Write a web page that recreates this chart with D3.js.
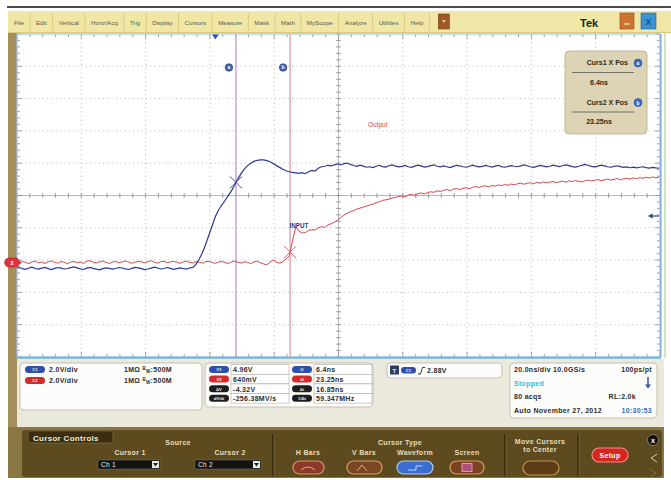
<!DOCTYPE html>
<html><head><meta charset="utf-8">
<script src="https://cdn.jsdelivr.net/npm/d3@7"></script>
<style>html,body{margin:0;padding:0;background:#fff;}svg{display:block;font-family:"Liberation Sans",Arial,sans-serif;}</style>
</head><body><svg id="c" width="671" height="480"></svg>
<script>
// ---------------- data ----------------
const sampleStart = -62;   // ns, first sample
const sampleStep = 1;      // ns between samples
// Ch1 (blue, "INPUT") volts
const ch1Volts = [
-0.36,-0.31,-0.38,-0.42,-0.34,-0.29,-0.37,-0.41,-0.35,-0.30,
-0.38,-0.44,-0.36,-0.31,-0.35,-0.40,-0.37,-0.32,-0.27,-0.33,
-0.39,-0.43,-0.35,-0.30,-0.36,-0.41,-0.45,-0.38,-0.33,-0.36,
-0.41,-0.37,-0.31,-0.34,-0.39,-0.43,-0.36,-0.30,-0.33,-0.38,
-0.44,-0.40,-0.35,-0.29,-0.34,-0.40,-0.37,-0.31,-0.36,-0.42,
-0.38,-0.33,-0.37,-0.41,-0.34,-0.30,-0.10,0.22,0.62,1.13,
1.70,2.28,2.85,3.25,3.56,3.84,4.14,4.44,4.80,5.18,
5.50,5.78,6.00,6.15,6.26,6.33,6.36,6.35,6.31,6.24,
6.13,6.00,5.89,5.78,5.68,5.62,5.58,5.55,5.52,5.57,
5.50,5.62,5.70,5.66,5.84,5.93,5.96,6.02,5.98,6.05,
6.10,6.04,6.12,6.16,6.08,6.01,5.95,6.03,5.97,5.90,
5.93,5.88,5.96,6.02,5.94,5.91,5.99,6.04,5.97,5.92,
5.95,6.01,5.93,5.89,5.97,6.03,5.98,5.91,5.94,6.00,
6.05,5.96,5.92,5.98,5.93,5.88,5.95,6.02,5.99,5.93,
5.90,5.96,6.03,5.97,5.92,5.95,6.01,5.96,5.91,5.97,
6.02,5.94,5.90,5.95,6.00,5.96,5.93,5.98,6.04,5.99,
5.93,5.89,5.95,6.01,5.97,5.92,5.96,6.03,5.98,5.94,
5.99,6.05,6.00,5.94,5.91,5.96,6.02,6.07,6.01,5.95,
5.92,5.97,6.03,5.98,5.93,5.90,5.95,5.99,5.94,5.89,
5.92,5.87,5.91,5.86,5.90,5.93,5.88,5.84,5.89,5.86,
5.85];
// Ch2 (red, "Output") volts
const ch2Volts = [
0.02,-0.05,0.06,0.01,-0.07,0.04,0.09,-0.02,0.03,-0.06,
0.05,0.10,0.01,-0.04,0.06,0.02,-0.08,0.03,0.07,-0.01,
0.04,-0.05,0.08,0.12,0.02,-0.03,0.05,0.09,0.01,-0.06,
0.03,0.07,-0.02,0.04,0.10,0.03,-0.05,0.02,0.08,0.04,
-0.03,0.06,0.11,0.02,-0.04,0.05,0.08,-0.01,0.03,0.07,
0.02,-0.05,0.04,0.09,0.01,-0.03,0.06,0.02,-0.04,0.05,
0.08,0.01,-0.05,0.03,0.07,0.00,-0.06,0.04,0.09,0.02,
-0.03,0.05,0.01,-0.07,0.04,0.08,-0.02,-0.09,-0.14,0.02,
0.16,0.03,-0.04,0.05,0.22,0.40,1.35,2.20,1.95,1.82,
1.86,1.98,2.04,2.01,2.14,2.22,2.17,2.33,2.40,2.49,
2.62,2.79,2.94,3.06,3.15,3.21,3.31,3.37,3.43,3.49,
3.56,3.61,3.71,3.76,3.85,3.88,3.92,3.99,4.03,4.09,
4.12,4.06,4.18,4.22,4.15,4.26,4.31,4.24,4.33,4.38,
4.35,4.44,4.40,4.47,4.52,4.45,4.55,4.58,4.51,4.60,
4.63,4.57,4.66,4.70,4.64,4.72,4.75,4.68,4.77,4.74,
4.80,4.76,4.83,4.78,4.86,4.81,4.88,4.92,4.85,4.90,
4.94,4.87,4.96,4.91,4.99,4.93,4.97,5.02,4.95,5.00,
5.04,4.97,5.06,5.01,5.08,5.03,4.99,5.07,5.11,5.05,
5.09,5.14,5.06,5.12,5.17,5.10,5.15,5.20,5.13,5.18,
5.22,5.16,5.24,5.19,5.26,5.21,5.28,5.23,5.30,5.25,
5.29];
const cursorTimes = [6.4, 23.25];       // ns
const cursorVolts = [4.96, 0.64];       // V at cursor on Ch1 / Ch2
const cursorLetters = ["a", "b"];
const triggerLevel = 2.88;              // V
const menuItems = ["File","Edit","Vertical","Horiz/Acq","Trig","Display","Cursors","Measure","Mask","Math","MyScope","Analyze","Utilities","Help"];
const readoutTitles = ["Curs1 X Pos","Curs2 X Pos"];
const readoutValues = ["6.4ns","23.25ns"];
const chanLabels = ["C1","C2"];
const chanScale = ["2.0V/div","2.0V/div"];
const measLabelsV = ["V1","V2","ΔV","dV/dt"];
const measValuesV = ["4.96V","640mV","-4.32V","-256.38MV/s"];
const measLabelsT = ["t1","t2","Δt","1/Δt"];
const measValuesT = ["6.4ns","23.25ns","16.85ns","59.347MHz"];
const timebaseLines = [["20.0ns/div  10.0GS/s","100ps/pt"],["Stopped",""],["80 acqs","RL:2.0k"],["Auto   November 27, 2012","10:30:53"]];

// ---------------- setup ----------------
const svg = d3.select("#c");
const X0 = 17, X1 = 660, Y0 = 34, Y1 = 357;
const x = d3.scaleLinear().domain([-61.7, 138.3]).range([X0, X1]);
const y = d3.scaleLinear().domain([-5.85, 14.15]).range([Y1, Y0]);
const gx = d3.scaleLinear().domain([0, 10]).range([X0, X1]);
const gy = d3.scaleLinear().domain([0, 10]).range([Y0, Y1]);

svg.append("rect").attr("width", 671).attr("height", 480).attr("fill", "#fff");
svg.append("line").attr("x1", 7).attr("x2", 671).attr("y1", 7).attr("y2", 7).attr("stroke", "#111").attr("stroke-width", 1.6);

// ---------------- menu bar ----------------
svg.append("rect").attr("x", 8).attr("y", 11).attr("width", 663).attr("height", 22).attr("fill", "#f0e7a6");
svg.append("line").attr("x1", 8).attr("x2", 671).attr("y1", 32.5).attr("y2", 32.5).attr("stroke", "#d6c97c");
const menu = svg.append("g").attr("font-size", 6.2).attr("fill", "#5a5a50");
let mx = 14;
menuItems.forEach(m => {
  const t = menu.append("text").attr("x", mx).attr("y", 24.5).text(m);
  const w = t.node().getComputedTextLength();
  const sx = mx + w + 6;
  menu.append("line").attr("x1", sx).attr("x2", sx).attr("y1", 13).attr("y2", 31).attr("stroke", "#d9cd86");
  mx = sx + 6;
});
svg.append("rect").attr("x", mx + 3).attr("y", 14).attr("width", 11).attr("height", 15).attr("fill", "#9c5a26").attr("stroke", "#6e3c14").attr("stroke-width", 0.6);
svg.append("path").attr("d", `M${mx + 6.5},20 h4 l-2,3 z`).attr("fill", "#f0c890");
svg.append("text").attr("x", 580).attr("y", 26.5).attr("font-size", 11).attr("font-weight", "bold").attr("fill", "#222").text("Tek");
svg.append("rect").attr("x", 620).attr("y", 13).attr("width", 14).attr("height", 16).attr("fill", "#cf7430").attr("stroke", "#8a4a18").attr("stroke-width", 0.6);
svg.append("line").attr("x1", 624).attr("x2", 630).attr("y1", 24).attr("y2", 24).attr("stroke", "#fbe0c0").attr("stroke-width", 1.2);
svg.append("rect").attr("x", 641).attr("y", 13).attr("width", 15).attr("height", 16).attr("fill", "#3a92d4").attr("stroke", "#1e5f96").attr("stroke-width", 0.6);
svg.append("text").attr("x", 648.5).attr("y", 25).attr("text-anchor", "middle").attr("font-size", 9).attr("fill", "#173a5e").text("X");

// side strips
svg.append("rect").attr("x", 8).attr("y", 33).attr("width", 9).attr("height", 445).attr("fill", "#a48e5a");
svg.append("line").attr("x1", 665).attr("x2", 665).attr("y1", 33).attr("y2", 358).attr("stroke", "#c4d8ae").attr("stroke-width", 1.5);

// ---------------- graticule ----------------
const plot = svg.append("g");
plot.append("rect").attr("x", X0).attr("y", Y0).attr("width", X1 - X0).attr("height", Y1 - Y0).attr("fill", "#fff");
const gridDivs = d3.range(1, 10).filter(d => d !== 5);
plot.selectAll(".gv").data(gridDivs).join("line").attr("class", "gv")
  .attr("x1", d => gx(d)).attr("x2", d => gx(d)).attr("y1", Y0).attr("y2", Y1)
  .attr("stroke", "#b9b9b9").attr("stroke-dasharray", "1,3.3");
plot.selectAll(".gh").data(gridDivs).join("line").attr("class", "gh")
  .attr("y1", d => gy(d)).attr("y2", d => gy(d)).attr("x1", X0).attr("x2", X1)
  .attr("stroke", "#b9b9b9").attr("stroke-dasharray", "1,3.3");
plot.append("line").attr("x1", X0).attr("x2", X1).attr("y1", gy(5)).attr("y2", gy(5)).attr("stroke", "#a4a4a4").attr("stroke-width", 0.8);
plot.append("line").attr("x1", gx(5)).attr("x2", gx(5)).attr("y1", Y0).attr("y2", Y1).attr("stroke", "#a4a4a4").attr("stroke-width", 0.8);
const minor = d3.range(0, 51).map(k => k / 5);
const tickCol = "#8c8c8c";
plot.selectAll(".ct1").data(minor).join("line").attr("x1", d => gx(d)).attr("x2", d => gx(d)).attr("y1", gy(5) - 2.5).attr("y2", gy(5) + 2.5).attr("stroke", tickCol).attr("stroke-width", 0.8);
plot.selectAll(".ct2").data(minor).join("line").attr("y1", d => gy(d)).attr("y2", d => gy(d)).attr("x1", gx(5) - 2.5).attr("x2", gx(5) + 2.5).attr("stroke", tickCol).attr("stroke-width", 0.8);
const tl = (d) => (Math.abs(d - Math.round(d)) < 1e-6 ? 5 : 3);
plot.selectAll(".tt").data(minor).join("line").attr("x1", d => gx(d)).attr("x2", d => gx(d)).attr("y1", Y0).attr("y2", d => Y0 + tl(d)).attr("stroke", tickCol).attr("stroke-width", 0.8);
plot.selectAll(".tb").data(minor).join("line").attr("x1", d => gx(d)).attr("x2", d => gx(d)).attr("y1", Y1).attr("y2", d => Y1 - tl(d)).attr("stroke", tickCol).attr("stroke-width", 0.8);
plot.selectAll(".tlft").data(minor).join("line").attr("y1", d => gy(d)).attr("y2", d => gy(d)).attr("x1", X0).attr("x2", d => X0 + tl(d)).attr("stroke", tickCol).attr("stroke-width", 0.8);
plot.selectAll(".trgt").data(minor).join("line").attr("y1", d => gy(d)).attr("y2", d => gy(d)).attr("x1", X1).attr("x2", d => X1 - tl(d)).attr("stroke", tickCol).attr("stroke-width", 0.8);
plot.append("rect").attr("x", X0).attr("y", Y0).attr("width", X1 - X0).attr("height", Y1 - Y0).attr("fill", "none").attr("stroke", "#9ec2e8").attr("stroke-width", 1.2);
plot.append("line").attr("x1", X0).attr("x2", X1 + 1).attr("y1", Y1 + 0.8).attr("y2", Y1 + 0.8).attr("stroke", "#64b8dc").attr("stroke-width", 2);
plot.append("line").attr("x1", X1 + 0.8).attr("x2", X1 + 0.8).attr("y1", Y0).attr("y2", Y1).attr("stroke", "#8aaee6").attr("stroke-width", 1.6);

// ---------------- cursors ----------------
const cursorCols = ["#c9a3d6", "#dfa9ae"];
plot.selectAll(".cur").data(cursorTimes).join("line").attr("class", "cur")
  .attr("x1", d => x(d)).attr("x2", d => x(d)).attr("y1", Y0).attr("y2", Y1)
  .attr("stroke", (d, i) => cursorCols[i]).attr("stroke-width", 1.5);
const cg = plot.selectAll(".cc").data(cursorTimes).join("g").attr("class", "cc")
  .attr("transform", d => `translate(${x(d) - 7},67.5)`);
cg.append("circle").attr("r", 3.8).attr("fill", "#3c62b8").attr("stroke", "#20408a").attr("stroke-width", 0.6);
cg.append("text").attr("y", 1.8).attr("text-anchor", "middle").attr("font-size", 5).attr("font-weight", "bold").attr("fill", "#fff").text((d, i) => cursorLetters[i]);

// ---------------- traces ----------------
svg.append("clipPath").attr("id", "clip").append("rect").attr("x", X0).attr("y", Y0).attr("width", X1 - X0).attr("height", Y1 - Y0);
const line = d3.line().x((d, i) => x(sampleStart + i * sampleStep)).y(d => y(d)).curve(d3.curveLinear);
const traces = plot.append("g").attr("clip-path", "url(#clip)");
traces.append("path").datum(ch2Volts).attr("d", line).attr("fill", "none").attr("stroke", "#d8464a").attr("stroke-width", 1);
traces.append("path").datum(ch1Volts).attr("d", line).attr("fill", "none").attr("stroke", "#2b3990").attr("stroke-width", 1.2);

// cursor X markers
const xCols = ["#3a4fa8", "#dd6670"];
cursorTimes.forEach((t, i) => {
  const cx = x(t), cy = y(cursorVolts[i]);
  plot.append("path").attr("d", `M${cx - 6},${cy - 6}L${cx + 6},${cy + 6}M${cx - 6},${cy + 6}L${cx + 6},${cy - 6}`)
    .attr("stroke", xCols[i]).attr("stroke-width", 1);
});

// labels
plot.append("text").attr("x", 368).attr("y", 126.5).attr("font-size", 6.5).attr("fill", "#e0403c").text("Output");
plot.append("text").attr("x", 289.5).attr("y", 228).attr("font-size", 6.3).attr("font-weight", "bold").attr("fill", "#2b3990").text("INPUT");

// trigger position marker (top) and level arrow (right)
plot.append("path").attr("d", `M${x(0) - 3.2},${Y0 + 0.5} h6.4 l-3.2,5 z`).attr("fill", "#2a52b4");
plot.append("path").attr("d", `M${X1 - 1},${y(triggerLevel)} H${X1 - 8}`).attr("stroke", "#2b3990").attr("stroke-width", 1.2);
plot.append("path").attr("d", `M${X1 - 12},${y(triggerLevel)} l4.5,-2.6 v5.2 z`).attr("fill", "#2b3990");

// channel ground marker (left)
const gm = plot.append("g").attr("transform", `translate(9,${y(0)})`);
gm.append("path").attr("d", "M0,-4.5 h8 l4,4.5 l-4,4.5 h-8 a4.5,4.5 0 0 1 0,-9 z").attr("fill", "#e0323a").attr("stroke", "#9e1e24").attr("stroke-width", 0.5);
gm.append("text").attr("x", 3).attr("y", 2).attr("text-anchor", "middle").attr("font-size", 5.5).attr("font-weight", "bold").attr("fill", "#fff").text("2");

// ---------------- cursor readout box ----------------
const rb = svg.append("g");
rb.append("rect").attr("x", 565).attr("y", 51).attr("width", 82).attr("height", 83).attr("rx", 4).attr("fill", "#dcd4b4").attr("stroke", "#b6ab86").attr("stroke-width", 0.8);
readoutTitles.forEach((tt, i) => {
  const by = 65 + i * 39.5;
  rb.append("text").attr("x", 628).attr("y", by).attr("text-anchor", "end").attr("font-size", 7).attr("font-weight", "bold").attr("fill", "#2e2a20").text(tt);
  rb.append("circle").attr("cx", 638).attr("cy", by - 2).attr("r", 4).attr("fill", "#3c6cc8").attr("stroke", "#1e4590").attr("stroke-width", 0.5);
  rb.append("text").attr("x", 638).attr("y", by).attr("text-anchor", "middle").attr("font-size", 5).attr("font-weight", "bold").attr("fill", "#fff").text(cursorLetters[i]);
  rb.append("line").attr("x1", 572).attr("x2", 634).attr("y1", by + 7.5).attr("y2", by + 7.5).attr("stroke", "#555").attr("stroke-width", 0.8);
  rb.append("text").attr("x", 599).attr("y", by + 19.5).attr("text-anchor", "middle").attr("font-size", 7).attr("font-weight", "bold").attr("fill", "#2e2a20").text(readoutValues[i]);
});

// ---------------- info panels ----------------
svg.append("rect").attr("x", X0).attr("y", 359).attr("width", 647).attr("height", 68).attr("fill", "#ebe8dc");
const info = svg.append("g").attr("font-size", 7).attr("font-weight", "bold").attr("fill", "#2c2c2c").attr("letter-spacing", 0.3);
const panel = (px, py, pw, ph) => info.append("rect").attr("x", px).attr("y", py).attr("width", pw).attr("height", ph).attr("rx", 4).attr("fill", "#fcfcfa").attr("stroke", "#b7b3a4").attr("stroke-width", 0.8);
const pill = (px, py, pw, ph, col, label) => {
  info.append("rect").attr("x", px).attr("y", py).attr("width", pw).attr("height", ph).attr("rx", ph / 2).attr("fill", col);
  info.append("text").attr("x", px + pw / 2).attr("y", py + ph - 1.6).attr("text-anchor", "middle").attr("font-size", 4.2).attr("letter-spacing", 0).attr("fill", "#f2f2f2").text(label);
};
const chanCols = ["#2f4fae", "#d42a2a"];
panel(20, 363, 182, 47);
chanLabels.forEach((c, i) => {
  const ry = 366 + i * 11;
  pill(25, ry, 20, 7, chanCols[i], c);
  info.append("text").attr("x", 49).attr("y", ry + 6.3).text(chanScale[i]);
  const t = info.append("text").attr("x", 124).attr("y", ry + 6.3);
  t.append("tspan").text("1MΩ ");
  t.append("tspan").attr("font-size", 4.5).attr("dy", -2).text("B");
  t.append("tspan").attr("font-size", 4.5).attr("dy", 3).text("W");
  t.append("tspan").attr("dy", -1).text(":500M");
});
panel(205, 363, 168, 44);
const measCols = ["#2f4fae", "#d42a2a", "#1e1e1e", "#1e1e1e"];
measLabelsV.forEach((l, j) => {
  const ry = 366 + j * 9.6;
  pill(209, ry, 20, 7, measCols[j], l);
  info.append("rect").attr("x", 231).attr("y", ry - 1.3).attr("width", 58).attr("height", 9.6).attr("fill", "#fff").attr("stroke", "#b0aca0").attr("stroke-width", 0.6);
  info.append("text").attr("x", 233).attr("y", ry + 6.3).text(measValuesV[j]);
  pill(292, ry, 20, 7, measCols[j], measLabelsT[j]);
  info.append("rect").attr("x", 314).attr("y", ry - 1.3).attr("width", 58).attr("height", 9.6).attr("fill", "#fff").attr("stroke", "#b0aca0").attr("stroke-width", 0.6);
  info.append("text").attr("x", 316).attr("y", ry + 6.3).text(measValuesT[j]);
});
panel(387, 363, 115, 15);
info.append("rect").attr("x", 390).attr("y", 365.5).attr("width", 9).attr("height", 9).attr("fill", "#2c3e66");
info.append("text").attr("x", 394.5).attr("y", 372.5).attr("text-anchor", "middle").attr("font-size", 6).attr("fill", "#e8e8e8").text("T");
pill(401, 367, 15, 6.5, chanCols[0], chanLabels[0]);
info.append("path").attr("d", "M418,374 h2.5 l2,-6.5 h2.5").attr("fill", "none").attr("stroke", "#222").attr("stroke-width", 0.9);
info.append("text").attr("x", 427).attr("y", 373).text(triggerLevel.toFixed(2) + "V");
panel(510, 363, 147, 55);
timebaseLines.forEach((r, k) => {
  const ry = 372 + k * 13.5;
  info.append("text").attr("x", 514).attr("y", ry).attr("fill", k === 1 ? "#3db6d6" : "#2c2c2c").text(r[0]);
  if (r[1]) info.append("text").attr("x", k === 2 ? 636 : 652).attr("y", ry).attr("text-anchor", "end").attr("fill", k === 3 ? "#2f6fc0" : "#2c2c2c").text(r[1]);
});
info.append("line").attr("x1", 648).attr("x2", 648).attr("y1", 377).attr("y2", 386).attr("stroke", "#2f56b0").attr("stroke-width", 1.5);
info.append("path").attr("d", "M645,384.5 h6 l-3,4 z").attr("fill", "#2f56b0");

// ---------------- bottom control bar ----------------
const bar = svg.append("g").attr("font-size", 7).attr("font-weight", "bold").attr("fill", "#e8dcbc").attr("letter-spacing", 0.3);
bar.append("rect").attr("x", 8).attr("y", 427).attr("width", 656).attr("height", 51).attr("fill", "#8a7642");
bar.append("rect").attr("x", 22).attr("y", 430).attr("width", 640).attr("height", 47).attr("rx", 3).attr("fill", "#5d4b1f");
bar.append("rect").attr("x", 28).attr("y", 431).attr("width", 85).attr("height", 12).attr("rx", 2).attr("fill", "#3a2d10").attr("stroke", "#8c7c52").attr("stroke-width", 0.6);
bar.append("text").attr("x", 33).attr("y", 440.5).attr("font-size", 8).attr("fill", "#f2ead2").text("Cursor Controls");
bar.append("text").attr("x", 178).attr("y", 444.5).attr("text-anchor", "middle").text("Source");
bar.append("text").attr("x", 130).attr("y", 455).attr("text-anchor", "middle").text("Cursor 1");
bar.append("text").attr("x", 230).attr("y", 455).attr("text-anchor", "middle").text("Cursor 2");
[[98, 62, "Ch 1"], [195, 66, "Ch 2"]].forEach(([dx, dw, lab]) => {
  bar.append("rect").attr("x", dx).attr("y", 460).attr("width", dw).attr("height", 9).attr("fill", "#121212").attr("stroke", "#7a7a6a").attr("stroke-width", 0.5);
  bar.append("text").attr("x", dx + 3).attr("y", 467).attr("font-weight", "normal").attr("font-size", 6.5).attr("fill", "#f0f0f0").text(lab);
  bar.append("rect").attr("x", dx + dw - 8).attr("y", 461).attr("width", 7).attr("height", 7).attr("fill", "#e8e8e8");
  bar.append("path").attr("d", `M${dx + dw - 7},463 h5 l-2.5,3.5 z`).attr("fill", "#222");
});
[273, 505, 578].forEach(sx => {
  bar.append("line").attr("x1", sx).attr("x2", sx).attr("y1", 434).attr("y2", 476).attr("stroke", "#2a2008").attr("stroke-width", 1.2);
  bar.append("line").attr("x1", sx + 1.2).attr("x2", sx + 1.2).attr("y1", 434).attr("y2", 476).attr("stroke", "#85733f").attr("stroke-width", 0.6);
});
bar.append("text").attr("x", 400).attr("y", 444.5).attr("text-anchor", "middle").text("Cursor Type");
const btn = (bx, by, bw, bh, fill, stroke) => bar.append("rect").attr("x", bx).attr("y", by).attr("width", bw).attr("height", bh).attr("rx", bh / 2).attr("fill", fill).attr("stroke", stroke).attr("stroke-width", 1.2);
bar.append("text").attr("x", 308).attr("y", 455).attr("text-anchor", "middle").text("H Bars");
btn(293, 461, 31, 13, "#8a3a26", "#d89a68");
bar.append("path").attr("d", "M301,470 q7,-6 14,0").attr("fill", "none").attr("stroke", "#f3c8a0").attr("stroke-width", 0.8);
bar.append("text").attr("x", 364).attr("y", 455).attr("text-anchor", "middle").text("V Bars");
btn(347, 461, 35, 13, "#7a4722", "#d8a060");
bar.append("path").attr("d", "M357,471 l5,-6 l5,6").attr("fill", "none").attr("stroke", "#f3c8a0").attr("stroke-width", 0.8);
bar.append("text").attr("x", 415).attr("y", 455).attr("text-anchor", "middle").text("Waveform");
btn(397, 461, 36, 13, "#3a6fd0", "#b2ccf4");
bar.append("path").attr("d", "M408,470 h8 v-4 h6").attr("fill", "none").attr("stroke", "#e8f0ff").attr("stroke-width", 0.8);
bar.append("text").attr("x", 467).attr("y", 455).attr("text-anchor", "middle").text("Screen");
btn(450, 461, 34, 13, "#7a4222", "#d8a060");
bar.append("rect").attr("x", 462).attr("y", 463.5).attr("width", 10).attr("height", 8).attr("fill", "#b0507a").attr("stroke", "#f2a8c8").attr("stroke-width", 0.8);
bar.append("text").attr("x", 540).attr("y", 443.5).attr("text-anchor", "middle").text("Move Cursors");
bar.append("text").attr("x", 540).attr("y", 452).attr("text-anchor", "middle").text("to Center");
btn(523, 461, 36, 14, "#5c3c14", "#c49448");
btn(592, 448, 36, 14, "#d6261e", "#f28a84");
bar.append("text").attr("x", 610).attr("y", 457.5).attr("text-anchor", "middle").attr("fill", "#fff").text("Setup");
bar.append("circle").attr("cx", 653).attr("cy", 440).attr("r", 5.5).attr("fill", "#111").attr("stroke", "#aaa").attr("stroke-width", 0.6);
bar.append("text").attr("x", 653).attr("y", 442.5).attr("text-anchor", "middle").attr("font-size", 7).attr("fill", "#fff").text("x");
bar.append("path").attr("d", "M657,454 l-6,4 l6,4").attr("fill", "none").attr("stroke", "#d8cfb0").attr("stroke-width", 1);
bar.append("path").attr("d", "M650,469 l6,4 l-6,4").attr("fill", "none").attr("stroke", "#7f6f40").attr("stroke-width", 1);
</script></body></html>
